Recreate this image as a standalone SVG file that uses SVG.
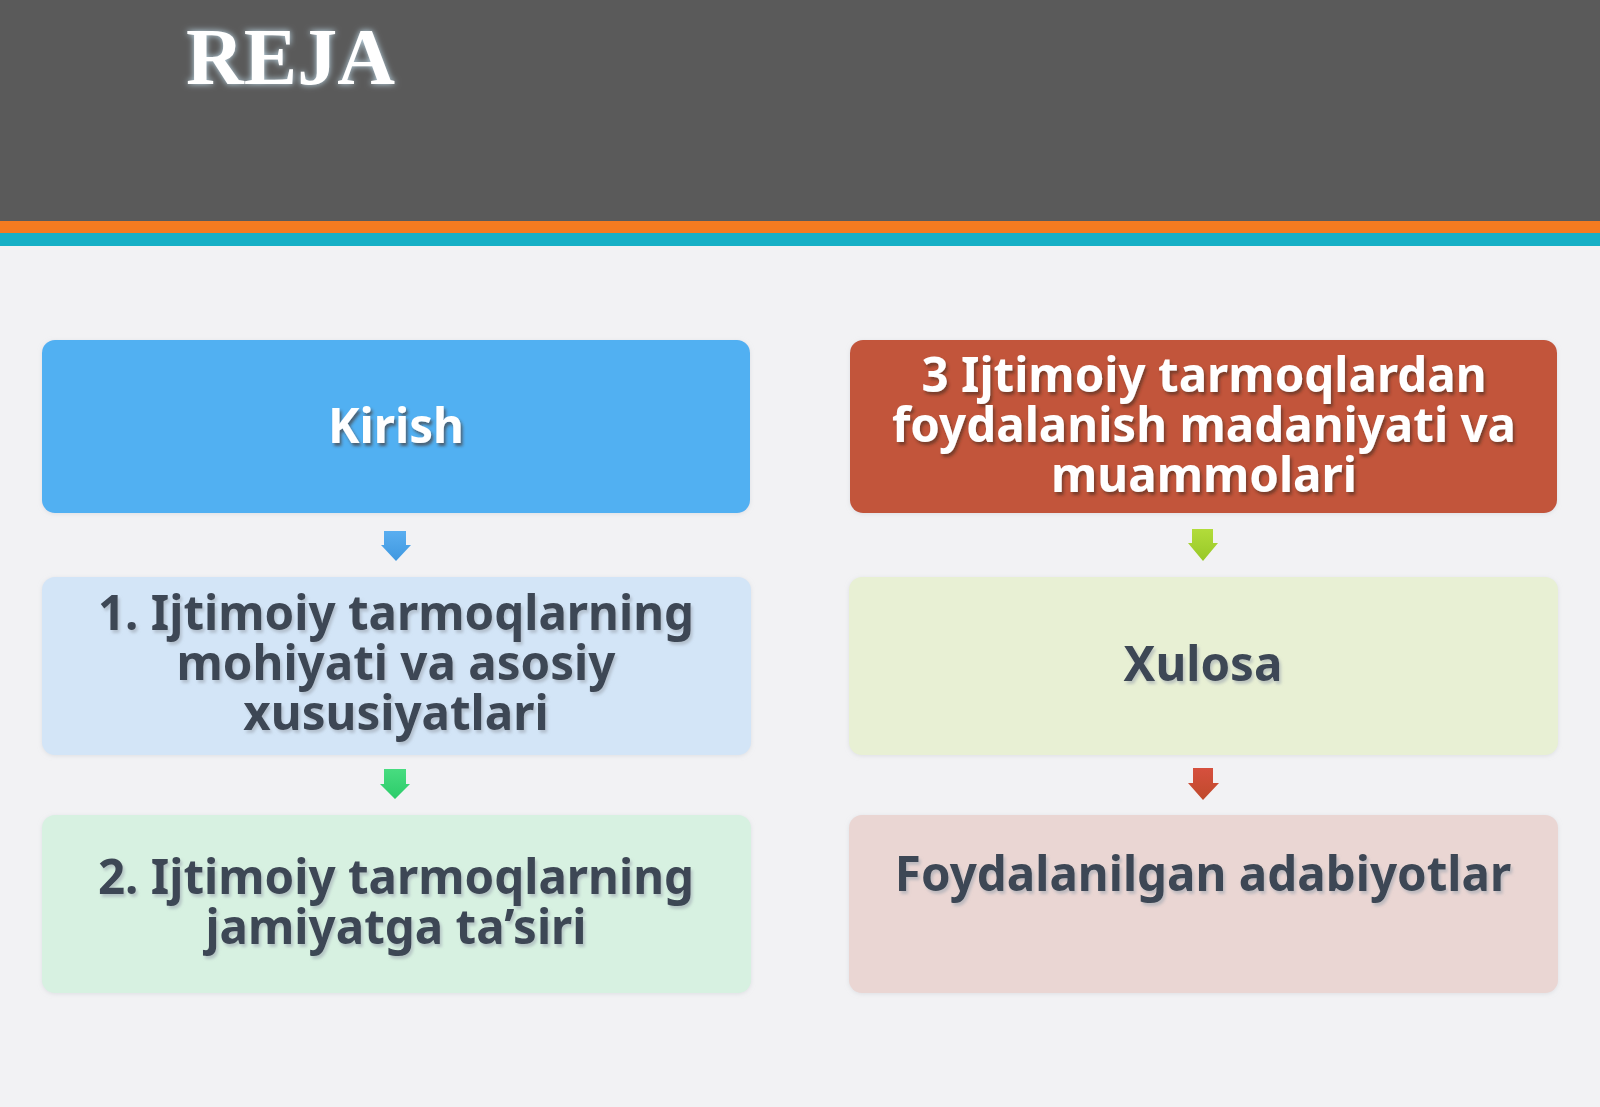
<svg xmlns="http://www.w3.org/2000/svg" width="1600" height="1107" viewBox="0 0 1600 1107">
<defs>
<style>
.t{font-family:"Noto Sans","Open Sans","DejaVu Sans",sans-serif;font-weight:700;font-size:47.5px;text-anchor:middle}
.w{fill:#ffffff;filter:url(#shW)}
.d{fill:#3d4754;filter:url(#shD)}
.box{filter:url(#boxSh)}
</style>
<filter id="glow" x="-20%" y="-40%" width="140%" height="180%">
<feGaussianBlur in="SourceAlpha" stdDeviation="3" result="b"/>
<feFlood flood-color="#cfeeff" flood-opacity="0.9"/>
<feComposite in2="b" operator="in" result="g"/>
<feMerge><feMergeNode in="g"/><feMergeNode in="SourceGraphic"/></feMerge>
</filter>
<filter id="shW" x="-10%" y="-30%" width="120%" height="160%">
<feDropShadow dx="2" dy="3" stdDeviation="1.5" flood-color="#4a2a20" flood-opacity="0.6"/>
</filter>
<filter id="shD" x="-10%" y="-30%" width="120%" height="160%">
<feDropShadow dx="2" dy="3" stdDeviation="1.5" flood-color="#9aa2ad" flood-opacity="0.55"/>
</filter>
<filter id="boxSh" x="-5%" y="-10%" width="110%" height="120%">
<feDropShadow dx="0" dy="1" stdDeviation="2" flood-color="#c8ccd2" flood-opacity="0.5"/>
</filter>
<linearGradient id="gBlue" x1="0" y1="0" x2="0" y2="1"><stop offset="0" stop-color="#5aaef0"/><stop offset="1" stop-color="#3f98e0"/></linearGradient>
<linearGradient id="gGreen" x1="0" y1="0" x2="0" y2="1"><stop offset="0" stop-color="#48dc80"/><stop offset="1" stop-color="#2ccc6a"/></linearGradient>
<linearGradient id="gLime" x1="0" y1="0" x2="0" y2="1"><stop offset="0" stop-color="#b2dc3a"/><stop offset="1" stop-color="#98c828"/></linearGradient>
<linearGradient id="gRed" x1="0" y1="0" x2="0" y2="1"><stop offset="0" stop-color="#d6503e"/><stop offset="1" stop-color="#bf4a2c"/></linearGradient>
</defs>

<rect x="0" y="0" width="1600" height="1107" fill="#f2f2f4"/>
<g id="header">
<rect x="0" y="0" width="1600" height="221" fill="#5a5a5a"/>
<rect x="0" y="221" width="1600" height="12" fill="#f47b20"/>
<rect x="0" y="233" width="1600" height="13" fill="#17b0c6"/>
<text x="186" y="84" font-family="'Liberation Serif','Times New Roman',serif" font-weight="700" font-size="80" fill="#ffffff" filter="url(#glow)">REJA</text>
</g>

<g id="connectors">
<path d="M384,531 h22 v14 h5 l-15,16 l-15,-16 h3 z" fill="url(#gBlue)"/>
<path d="M384,769 h22 v15 h4 l-15,15 l-15,-15 h4 z" fill="url(#gGreen)"/>
<path d="M1192,529 h21 v14 h5 l-15,18 l-15,-18 h4 z" fill="url(#gLime)"/>
<path d="M1193,768 h20 v15 h6 l-16,17 l-15,-17 h5 z" fill="url(#gRed)"/>
</g>

<g id="node-kirish">
<rect class="box" x="42" y="340" width="708" height="173" rx="13" fill="#51b0f2"/>
<text class="t w" x="396" y="443">Kirish</text>
</g>

<g id="node-1">
<rect class="box" x="42" y="577" width="709" height="178" rx="13" fill="#d3e5f7"/>
<text class="t d" x="396" y="630">1. Ijtimoiy tarmoqlarning</text>
<text class="t d" x="396" y="680">mohiyati va asosiy</text>
<text class="t d" x="396" y="730">xususiyatlari</text>
</g>

<g id="node-2">
<rect class="box" x="42" y="815" width="709" height="178" rx="13" fill="#d7f1e1"/>
<text class="t d" x="396" y="894">2. Ijtimoiy tarmoqlarning</text>
<text class="t d" x="396" y="944">jamiyatga ta’siri</text>
</g>

<g id="node-3">
<rect class="box" x="850" y="340" width="707" height="173" rx="13" fill="#c2553a"/>
<text class="t w" x="1204" y="392">3 Ijtimoiy tarmoqlardan</text>
<text class="t w" x="1204" y="442">foydalanish madaniyati va</text>
<text class="t w" x="1204" y="492">muammolari</text>
</g>

<g id="node-xulosa">
<rect class="box" x="849" y="577" width="709" height="178" rx="13" fill="#e8f0d4"/>
<text class="t d" x="1203" y="681">Xulosa</text>
</g>

<g id="node-adabiyot">
<rect class="box" x="849" y="815" width="709" height="178" rx="13" fill="#ead6d3"/>
<text class="t d" x="1203" y="891">Foydalanilgan adabiyotlar</text>
</g>
</svg>
